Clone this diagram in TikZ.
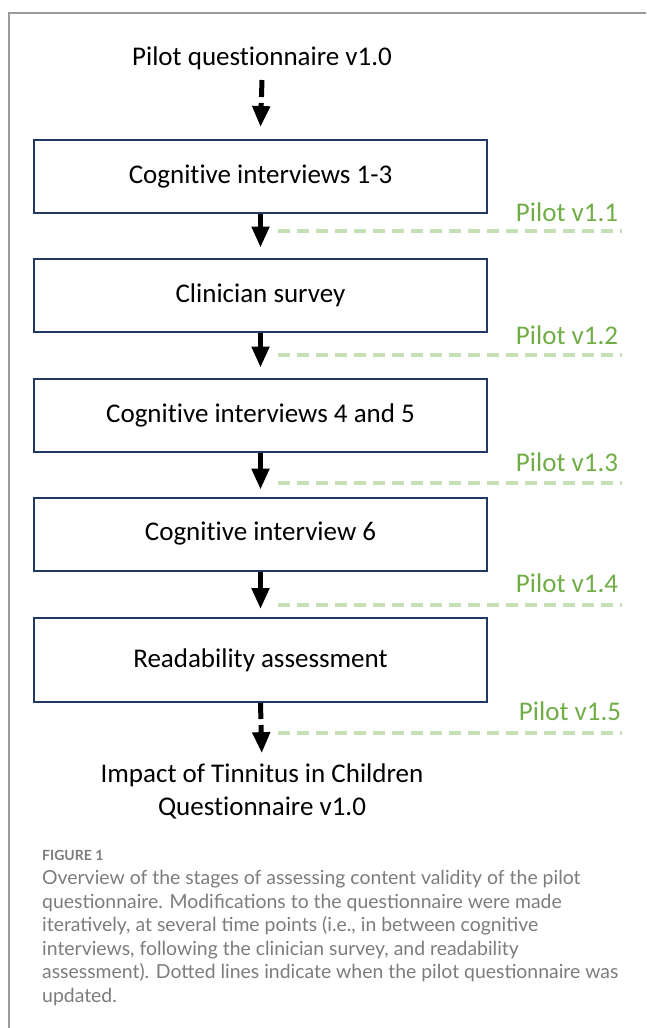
\documentclass[tikz,border=0pt]{standalone}
\usepackage{fontspec}
\setmainfont{Carlito}[Ligatures={NoCommon,NoRequired,NoContextual}]
\newfontfamily\capfont{Lato}
\usetikzlibrary{arrows.meta}
\definecolor{boxblue}{HTML}{1F3864}
\definecolor{pilotgreen}{HTML}{70AD47}
\definecolor{dashgreen}{HTML}{C5E0B4}
\definecolor{framegray}{HTML}{9A9A9A}
\definecolor{capgray}{HTML}{7C7C7C}
\tikzset{
  stagebox/.style={draw=boxblue, line width=2pt, minimum width=453pt, minimum height=73pt, inner sep=0pt, font=\fontsize{27}{31}\selectfont},
  plaintext/.style={inner sep=0pt, font=\fontsize{27}{33}\selectfont, align=center},
  flowarrow/.style={line width=5pt, -{Triangle[width=17pt,length=21pt]}},
  pilotlabel/.style={text=pilotgreen, inner sep=0pt, font=\fontsize{27}{31}\selectfont},
  pilotline/.style={draw=dashgreen, line width=4pt, dash pattern=on 12pt off 7pt},
}
\begin{document}
\begin{tikzpicture}[x=1pt,y=-1pt]
\useasboundingbox (0,0) rectangle (646,1028);
\draw[framegray, line width=1.5pt] (9,1028) -- (9,13) -- (646,13);
\node[plaintext] (start) at (262,58) {Pilot questionnaire v1.0};
\node[stagebox] (b1) at (260.5,176.5) {Cognitive interviews 1-3};
\node[stagebox] (b2) at (260.5,295) {Clinician survey};
\node[stagebox] (b3) at (260.5,415) {Cognitive interviews 4 and 5};
\node[stagebox] (b4) at (260.5,534) {Cognitive interview 6};
\node[stagebox, minimum height=84pt] (b5) at (260.5,660) {Readability assessment};
\node[plaintext] (end) at (262,791) {Impact of Tinnitus in Children\\Questionnaire v1.0};
\coordinate (s0) at (262,80);
\draw[flowarrow, dash pattern=on 17pt off 6pt] (s0) -- ([yshift=12pt]b1.north);
\draw[flowarrow, shorten >=10pt] (b1.south) -- (b2.north);
\draw[flowarrow, shorten >=10pt] (b2.south) -- (b3.north);
\draw[flowarrow, shorten >=7pt] (b3.south) -- (b4.north);
\draw[flowarrow, shorten >=8pt] (b4.south) -- (b5.north);
\draw[flowarrow, dash pattern=on 16pt off 6pt, shorten >=10pt] (b5.south) -- (end.north);
\node[pilotlabel] (p1) at (567,212) {Pilot v1.1};
\node[pilotlabel] (p2) at (567,335) {Pilot v1.2};
\node[pilotlabel] (p3) at (567,462) {Pilot v1.3};
\node[pilotlabel] (p4) at (567,583) {Pilot v1.4};
\node[pilotlabel] (p5) at (570,711) {Pilot v1.5};
\foreach \i/\yy in {1/231,2/355,3/483,4/605,5/733}{
  \coordinate (gs\i) at (278,\yy);
  \coordinate (ge\i) at (622,\yy);
  \draw[pilotline] (gs\i) -- (ge\i);
}
\node[anchor=west, inner sep=0pt, text=capgray, font=\capfont\fontsize{14}{16}\selectfont\bfseries] (fig) at (42,855) {FIGURE 1};
\node[anchor=north west, inner sep=0pt, text=capgray, align=left, font=\capfont\fontsize{19.4}{23.5}\selectfont] (cap) at (42,870) {Overview of the stages of assessing content validity of the pilot\\questionnaire. Modifications to the questionnaire were made\\iteratively, at several time points (i.e., in between cognitive\\interviews, following the clinician survey, and readability\\assessment). Dotted lines indicate when the pilot questionnaire was\\updated.};
\end{tikzpicture}
\end{document}
